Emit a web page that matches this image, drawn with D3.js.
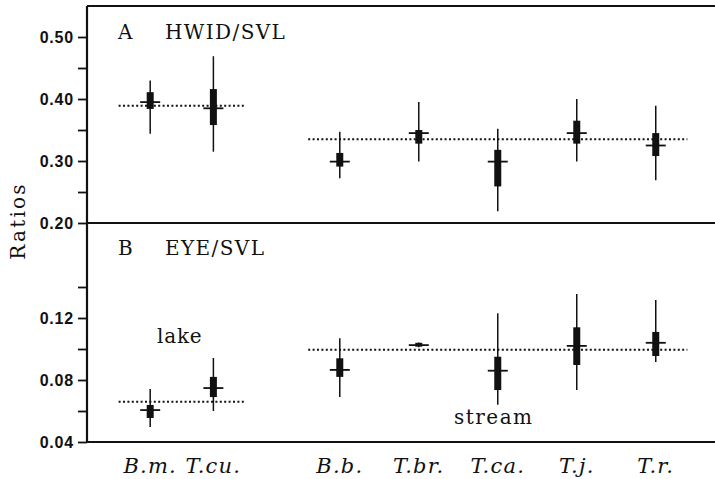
<!DOCTYPE html>
<html lang="en">
<head>
<meta charset="utf-8">
<title>Ratios</title>
<style>
  body { margin: 0; background: #fff; }
  .serif { font-family: "DejaVu Serif", serif; fill: #111; }
</style>
</head>
<body>
<div id="chart"></div>
<script src="https://cdn.jsdelivr.net/npm/d3@7"></script>
<script>
// species along the x axis, lake forms first, then stream forms
var species = ["B.m.", "T.cu.", "B.b.", "T.br.", "T.ca.", "T.j.", "T.r."];
var habitat = ["lake", "lake", "stream", "stream", "stream", "stream", "stream"];

// A: head width / SVL
var hwidMin  = [0.344, 0.315, 0.272, 0.299, 0.219, 0.299, 0.269];
var hwidLo   = [0.384, 0.358, 0.291, 0.328, 0.259, 0.328, 0.308];
var hwidMean = [0.395, 0.385, 0.299, 0.345, 0.299, 0.345, 0.325];
var hwidHi   = [0.411, 0.416, 0.313, 0.350, 0.318, 0.365, 0.345];
var hwidMax  = [0.430, 0.469, 0.347, 0.395, 0.352, 0.400, 0.389];
var hwidHabitatMean = { lake: 0.389, stream: 0.335 };

// B: eye / SVL
var eyeMin  = [0.0497, 0.060, 0.069, 0.1012, 0.064, 0.0735, 0.0916];
var eyeLo   = [0.0555, 0.069, 0.082, 0.1015, 0.0735, 0.0897, 0.0955];
var eyeMean = [0.0606, 0.0748, 0.0865, 0.1025, 0.086, 0.102, 0.104];
var eyeHi   = [0.0639, 0.082, 0.094, 0.1040, 0.095, 0.114, 0.111];
var eyeMax  = [0.0742, 0.0942, 0.107, 0.1042, 0.123, 0.1355, 0.1316];
var eyeHabitatMean = { lake: 0.066, stream: 0.0995 };

var hwidTicks = [0.20, 0.30, 0.40, 0.50], hwidMinor = [0.25, 0.35, 0.45];
var eyeTicks = [0.04, 0.08, 0.12], eyeMinor = [0.06, 0.10, 0.14];

var width = 715, height = 479;

var svg = d3.select("#chart").append("svg")
    .attr("width", width)
    .attr("height", height);

// slot of each species on the x scale (gap between lake and stream)
var slot = [0.8, 1.6, 3.2, 4.2, 5.2, 6.2, 7.2];
var x = d3.scaleLinear().domain([0, 7.95]).range([87, 715]);

var yTop = d3.scaleLinear().domain([0.20, 0.50]).range([223, 37]);
var yBot = d3.scaleLinear().domain([0.04, 0.12]).range([442, 318]);

function rows(mn, lo, me, hi, mx) {
  return species.map(function(s, i) {
    return { name: s, hab: habitat[i], x: slot[i], min: mn[i], lo: lo[i], mean: me[i], hi: hi[i], max: mx[i] };
  });
}

function styleAxis(a) {
  a.select(".domain").remove();
  a.selectAll("line").attr("stroke", "#111").attr("stroke-width", 1.8);
  a.selectAll("text")
      .style("font-family", "'Liberation Sans', Arial, sans-serif")
      .style("font-size", "16px")
      .style("font-weight", "bold")
      .style("letter-spacing", "0.8px")
      .style("fill", "#111");
}

function panel(data, y, habMean, ticks, minor) {
  var g = svg.append("g");

  // axis ticks
  g.append("g")
      .attr("transform", "translate(" + x(0) + ",0)")
      .call(d3.axisLeft(y).tickValues(ticks).tickSize(9).tickPadding(4).tickFormat(d3.format(".2f")))
      .call(styleAxis);
  g.append("g")
      .attr("transform", "translate(" + x(0) + ",0)")
      .call(d3.axisLeft(y).tickValues(minor).tickSize(9).tickFormat(""))
      .call(styleAxis);

  // dotted habitat means
  ["lake", "stream"].forEach(function(h) {
    var xs = data.filter(function(d) { return d.hab == h; }).map(function(d) { return d.x; });
    g.append("line")
        .attr("x1", x(d3.min(xs) - 0.4))
        .attr("x2", x(d3.max(xs) + 0.4))
        .attr("y1", y(habMean[h]))
        .attr("y2", y(habMean[h]))
        .attr("stroke", "#111")
        .attr("stroke-width", 2)
        .attr("stroke-dasharray", "2,2.4");
  });

  var sp = g.selectAll(".sp").data(data).enter().append("g");

  sp.append("line")
      .attr("x1", function(d) { return x(d.x); })
      .attr("x2", function(d) { return x(d.x); })
      .attr("y1", function(d) { return y(d.max); })
      .attr("y2", function(d) { return y(d.min); })
      .attr("stroke", "#111")
      .attr("stroke-width", 1.5);

  sp.append("rect")
      .attr("x", function(d) { return x(d.x) - 3.5; })
      .attr("width", 7)
      .attr("y", function(d) { return y(d.hi); })
      .attr("height", function(d) { return Math.max(2.5, y(d.lo) - y(d.hi)); })
      .attr("fill", "#111");

  sp.append("line")
      .attr("x1", function(d) { return x(d.x) - 10; })
      .attr("x2", function(d) { return x(d.x) + 10; })
      .attr("y1", function(d) { return y(d.mean); })
      .attr("y2", function(d) { return y(d.mean); })
      .attr("stroke", "#111")
      .attr("stroke-width", 1.8);
}

panel(rows(hwidMin, hwidLo, hwidMean, hwidHi, hwidMax), yTop, hwidHabitatMean, hwidTicks, hwidMinor);
panel(rows(eyeMin, eyeLo, eyeMean, eyeHi, eyeMax), yBot, eyeHabitatMean, eyeTicks, eyeMinor);

// frame
var frame = svg.append("g").attr("stroke", "#111").attr("stroke-width", 2.2);
[yTop(0.55), yTop(0.20), yBot(0.04)].forEach(function(yy) {
  frame.append("line").attr("x1", x(0)).attr("x2", width).attr("y1", yy).attr("y2", yy);
});
frame.append("line").attr("x1", x(0)).attr("x2", x(0)).attr("y1", yTop(0.55)).attr("y2", yBot(0.04));

// panel titles
svg.append("text").attr("class", "serif").attr("x", 118).attr("y", 39).attr("font-size", 20).text("A");
svg.append("text").attr("class", "serif").attr("x", 165).attr("y", 39).attr("font-size", 20).attr("letter-spacing", 1.4).text("HWID/SVL");
svg.append("text").attr("class", "serif").attr("x", 118).attr("y", 255).attr("font-size", 20).text("B");
svg.append("text").attr("class", "serif").attr("x", 165).attr("y", 255).attr("font-size", 20).attr("letter-spacing", 1.4).text("EYE/SVL");

svg.append("text").attr("class", "serif").attr("x", 157).attr("y", 343).attr("font-size", 20).attr("letter-spacing", 0.8).text("lake");
svg.append("text").attr("class", "serif").attr("x", 454).attr("y", 424).attr("font-size", 20).attr("letter-spacing", 1.5).text("stream");

// y label
svg.append("text").attr("class", "serif")
    .attr("transform", "translate(25,221) rotate(-90)")
    .attr("text-anchor", "middle")
    .attr("font-size", 20)
    .attr("letter-spacing", 2.2)
    .text("Ratios");

// species labels
svg.append("g").selectAll("text")
    .data(species)
    .enter().append("text")
    .attr("class", "serif")
    .attr("x", function(d, i) { return x(slot[i]); })
    .attr("y", 473)
    .attr("text-anchor", "middle")
    .attr("font-size", 21)
    .attr("font-style", "italic")
    .attr("letter-spacing", 1.2)
    .text(function(d) { return d; });
</script>
</body>
</html>
